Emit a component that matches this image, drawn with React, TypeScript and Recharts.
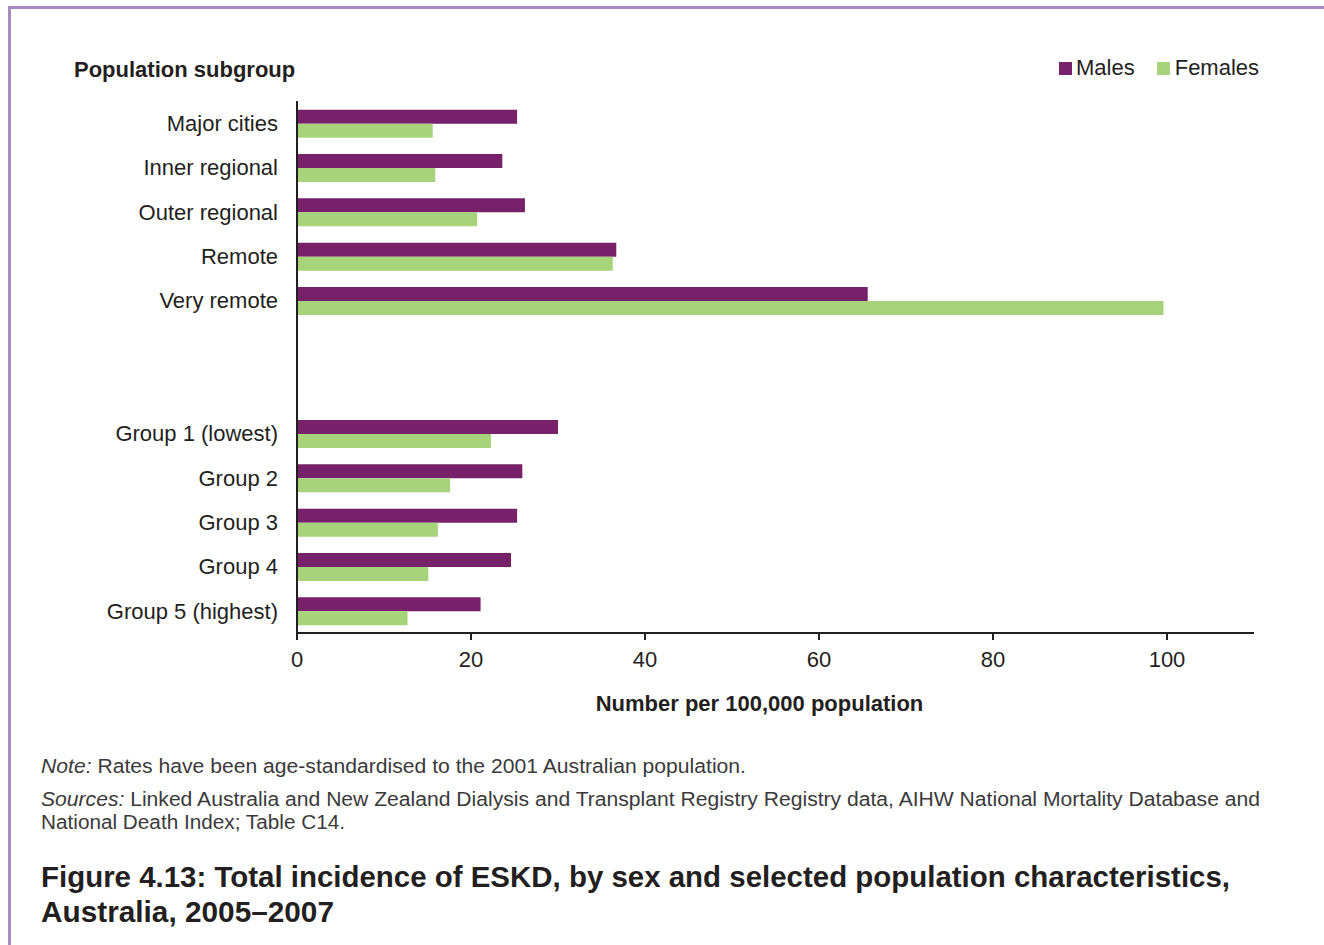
import React from "react";
import { BarChart, Bar, XAxis, YAxis, Legend } from "recharts";

const categories = [
  "Major cities",
  "Inner regional",
  "Outer regional",
  "Remote",
  "Very remote",
  "",
  " ",
  "Group 1 (lowest)",
  "Group 2",
  "Group 3",
  "Group 4",
  "Group 5 (highest)",
];
const malesValues = [25.3, 23.6, 26.2, 36.7, 65.6, null, null, 30.0, 25.9, 25.3, 24.6, 21.1];
const femalesValues = [15.6, 15.9, 20.7, 36.3, 99.6, null, null, 22.3, 17.6, 16.2, 15.1, 12.7];
const xTicks = [0, 20, 40, 60, 80, 100];
const seriesOrder = ["Males", "Females"];

const data = categories.map((name, i) => ({
  name,
  Males: malesValues[i],
  Females: femalesValues[i],
}));

const FONT = "'Liberation Sans', Arial, Helvetica, sans-serif";
const INK = "#231f20";
const MALE = "#76216a";
const FEMALE = "#a7d37b";

const YTick = (props: any) => {
  const { x, y, payload } = props;
  return (
    <text x={x} y={y} dy="0.355em" textAnchor="end" fontSize={22} fontFamily={FONT} fill={INK}>
      {payload.value}
    </text>
  );
};

const XLabel = (props: any) => {
  const vb = props.viewBox || {};
  return (
    <text
      x={vb.x + vb.width / 2 - 16}
      y={vb.y + 78}
      textAnchor="middle"
      fontSize={22}
      fontWeight="bold"
      fontFamily={FONT}
      fill={INK}
    >
      Number per 100,000 population
    </text>
  );
};

const LegendContent = (props: any) => {
  const items = [...(props.payload || [])].sort(
    (a: any, b: any) => seriesOrder.indexOf(a.value) - seriesOrder.indexOf(b.value)
  );
  return (
    <div style={{ display: "flex", alignItems: "center", fontFamily: FONT, fontSize: 22, color: INK }}>
      {items.map((it: any, i: number) => (
        <div key={i} style={{ display: "flex", alignItems: "center", marginRight: i === 0 ? 22 : 0 }}>
          <span style={{ display: "inline-block", width: 13, height: 13, background: it.color, marginRight: i === 0 ? 4 : 5 }} />
          <span>{it.value}</span>
        </div>
      ))}
    </div>
  );
};

export default function App() {
  return (
    <div style={{ position: "absolute", left: 0, top: 0, width: 1324, height: 945, background: "#fff", overflow: "hidden" }}>
      <div
        style={{
          position: "absolute",
          left: 8,
          top: 6,
          width: 1400,
          height: 1000,
          borderLeft: "3px solid #a78cc4",
          borderTop: "3px solid #a78cc4",
        }}
      />
      <div
        style={{
          position: "absolute",
          left: 74,
          top: 57,
          fontFamily: FONT,
          fontSize: 22,
          fontWeight: "bold",
          color: INK,
          lineHeight: "26px",
        }}
      >
        Population subgroup
      </div>
      <div style={{ position: "absolute", left: 0, top: 0 }}>
        <BarChart
          width={1324}
          height={760}
          data={data}
          layout="vertical"
          margin={{ top: 101, right: 70, left: 0, bottom: 67 }}
          barCategoryGap="19.5%"
          barGap={0}
        >
          <XAxis
            type="number"
            domain={[0, 110]}
            ticks={xTicks}
            interval={0}
            height={60}
            axisLine={{ stroke: INK, strokeWidth: 2 }}
            tickLine={{ stroke: INK, strokeWidth: 2 }}
            tickSize={7}
            tickMargin={11}
            tick={{ fontSize: 22, fontFamily: FONT, fill: INK }}
            label={<XLabel />}
          />
          <YAxis
            type="category"
            dataKey="name"
            width={297}
            axisLine={{ stroke: INK, strokeWidth: 2 }}
            tickLine={false}
            tickSize={0}
            tickMargin={19}
            interval={0}
            tick={<YTick />}
          />
          <Legend
            layout="horizontal"
            verticalAlign="middle"
            align="center"
            content={<LegendContent />}
            wrapperStyle={{ top: 55, left: 1059, width: 240, height: 26 }}
          />
          <Bar dataKey="Males" fill={MALE} isAnimationActive={false} />
          <Bar dataKey="Females" fill={FEMALE} isAnimationActive={false} />
        </BarChart>
      </div>
      <svg
        width={1324}
        height={945}
        style={{ position: "absolute", left: 0, top: 0, pointerEvents: "none" }}
      >
        <g fontFamily={FONT} fill="#3a3a3a" fontSize={20}>
          <text x={41} y={773} textLength={705} lengthAdjust="spacingAndGlyphs">
            <tspan fontStyle="italic">Note:</tspan> Rates have been age-standardised to the 2001 Australian population.
          </text>
          <text x={41} y={806} textLength={1219} lengthAdjust="spacingAndGlyphs">
            <tspan fontStyle="italic">Sources:</tspan> Linked Australia and New Zealand Dialysis and Transplant Registry Registry data, AIHW National Mortality Database and
          </text>
          <text x={41} y={829} textLength={304} lengthAdjust="spacingAndGlyphs">
            National Death Index; Table C14.
          </text>
        </g>
        <g fontFamily={FONT} fill={INK} fontSize={30} fontWeight="bold">
          <text x={41} y={887} textLength={1189} lengthAdjust="spacingAndGlyphs">
            Figure 4.13: Total incidence of ESKD, by sex and selected population characteristics,
          </text>
          <text x={41} y={922} textLength={293} lengthAdjust="spacingAndGlyphs">
            Australia, 2005–2007
          </text>
        </g>
      </svg>
    </div>
  );
}
